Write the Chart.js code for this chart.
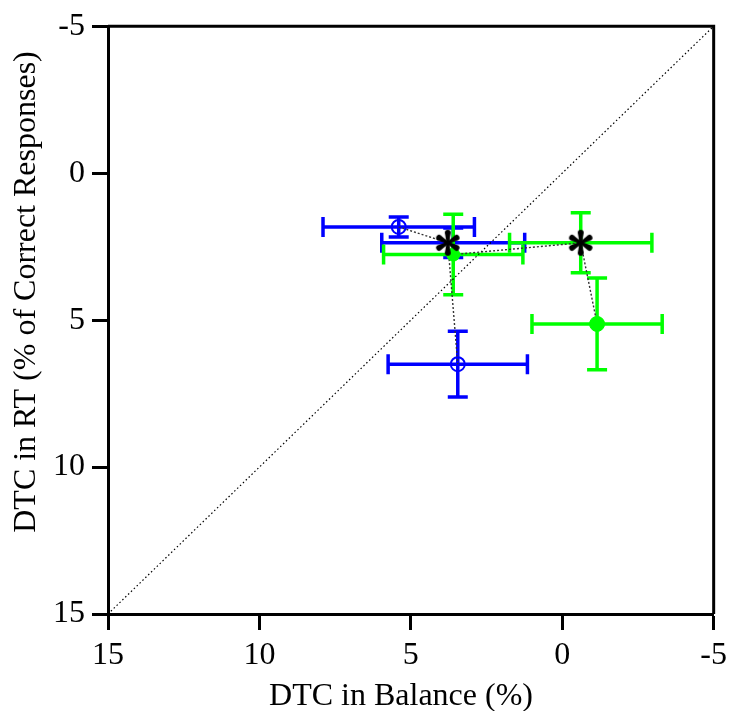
<!doctype html>
<html>
<head>
<meta charset="UTF-8">
<script src="https://cdn.jsdelivr.net/npm/chart.js"></script>
<style>
  html, body { margin: 0; padding: 0; background: #fff; }
</style>
</head>
<body>
<canvas id="dtc_graph" width="733" height="711"></canvas>

<script>
    // axis ticks (both axes reversed, -5 .. 15)
    const xTicks = [15, 10, 5, 0, -5];
    const yTicks = [-5, 0, 5, 10, 15];

    // open blue circles
    const blueX = [5.4, 3.45];
    const blueY = [1.83, 6.5];
    const blueXErr = [2.5, 2.3];
    const blueYErr = [0.34, 1.12];

    // filled green circles
    const greenX = [3.6, -1.15];
    const greenY = [2.77, 5.13];
    const greenXErr = [2.3, 2.15];
    const greenYErr = [1.37, 1.56];

    // black asterisks (means)
    const starX = [3.78, -0.61];
    const starY = [2.37, 2.37];

    // error bars drawn round the asterisks
    const starBlueX = [3.6];
    const starBlueY = [2.37];
    const starBlueXErr = [2.36];
    const starBlueYErr = [0.5];
    const starGreenX = [-0.61];
    const starGreenY = [2.37];
    const starGreenXErr = [2.35];
    const starGreenYErr = [1.02];

    // identity line
    const diagX = [15, -5];
    const diagY = [15, -5];

    const BLUE = '#0000ff';
    const GREEN = '#00ff00';
    const FONT = '"Liberation Serif", "Times New Roman", serif';

    const pts = (xs, ys) => xs.map((v, i) => ({x: v, y: ys[i]}));

    // 6-armed asterisk used as point style
    function makeAsterisk(r) {
        const c = document.createElement('canvas');
        c.width = c.height = 2 * r + 4;
        const g = c.getContext('2d');
        g.translate(r + 2, r + 2);
        g.fillStyle = '#000';
        for (let k = 0; k < 6; k++) {
            g.save();
            g.rotate(Math.PI / 2 + k * Math.PI / 3);
            g.beginPath();
            g.moveTo(0, -1.2);
            g.lineTo(r - 3, -3);
            g.arc(r - 3, 0, 3, -Math.PI / 2, Math.PI / 2);
            g.lineTo(0, 1.2);
            g.closePath();
            g.fill();
            g.restore();
        }
        return c;
    }

    const errorSets = [
        {color: BLUE, x: blueX, y: blueY, xErr: blueXErr, yErr: blueYErr},
        {color: BLUE, x: starBlueX, y: starBlueY, xErr: starBlueXErr, yErr: starBlueYErr},
        {color: GREEN, x: greenX, y: greenY, xErr: greenXErr, yErr: greenYErr},
        {color: GREEN, x: starGreenX, y: starGreenY, xErr: starGreenXErr, yErr: starGreenYErr}
    ];

    const errorBars = {
        id: 'errorBars',
        beforeDatasetsDraw(chart) {
            const {ctx, scales: {x, y}} = chart;
            const cap = 10;
            ctx.save();
            ctx.lineWidth = 3.5;
            errorSets.forEach(set => {
                ctx.strokeStyle = set.color;
                set.x.forEach((xv, i) => {
                    const yv = set.y[i];
                    const px = x.getPixelForValue(xv), py = y.getPixelForValue(yv);
                    const x0 = x.getPixelForValue(xv - set.xErr[i]);
                    const x1 = x.getPixelForValue(xv + set.xErr[i]);
                    const y0 = y.getPixelForValue(yv - set.yErr[i]);
                    const y1 = y.getPixelForValue(yv + set.yErr[i]);
                    ctx.beginPath();
                    ctx.moveTo(x0, py); ctx.lineTo(x1, py);
                    ctx.moveTo(x0, py - cap); ctx.lineTo(x0, py + cap);
                    ctx.moveTo(x1, py - cap); ctx.lineTo(x1, py + cap);
                    ctx.moveTo(px, y0); ctx.lineTo(px, y1);
                    ctx.moveTo(px - cap, y0); ctx.lineTo(px + cap, y0);
                    ctx.moveTo(px - cap, y1); ctx.lineTo(px + cap, y1);
                    ctx.stroke();
                });
            });
            ctx.restore();
        }
    };

    // top/right frame and the two axis titles
    const frame = {
        id: 'frame',
        afterDraw(chart) {
            const {ctx, chartArea: a} = chart;
            ctx.save();
            ctx.strokeStyle = '#000';
            ctx.lineWidth = 3;
            ctx.beginPath();
            ctx.moveTo(a.left, a.top);
            ctx.lineTo(a.right, a.top);
            ctx.lineTo(a.right, a.bottom);
            ctx.stroke();

            ctx.fillStyle = '#000';
            ctx.font = '32px ' + FONT;
            ctx.textAlign = 'center';
            ctx.textBaseline = 'alphabetic';
            ctx.fillText('DTC in Balance (%)', 401, 705);

            ctx.translate(35, 292);
            ctx.rotate(-Math.PI / 2);
            ctx.fillText('DTC in RT (% of Correct Responses)', 0, 0);
            ctx.restore();
        }
    };

    const axisCommon = {
        type: 'linear',
        min: -5,
        max: 15,
        reverse: true,
        border: {display: true, color: '#000', width: 3},
        grid: {drawOnChartArea: false, drawTicks: true, tickLength: 16, tickWidth: 3, tickColor: '#000'},
        title: {display: false}
    };

    new Chart(document.getElementById('dtc_graph'), {
        type: 'scatter',
        data: {
            datasets: [
                {
                    label: 'Means',
                    data: pts(starX, starY),
                    pointStyle: makeAsterisk(13),
                    pointRadius: 13,
                    order: 0
                },
                {
                    label: 'Green',
                    data: pts(greenX, greenY),
                    pointStyle: 'circle',
                    pointRadius: [6.5, 7.5],
                    backgroundColor: GREEN,
                    borderColor: GREEN,
                    borderWidth: 1,
                    order: 1
                },
                {
                    label: 'Blue',
                    data: pts(blueX, blueY),
                    pointStyle: 'circle',
                    pointRadius: 7,
                    backgroundColor: 'rgba(0,0,0,0)',
                    borderColor: BLUE,
                    borderWidth: 2,
                    order: 2
                },
                {
                    label: 'Blue path',
                    type: 'line',
                    data: [
                        {x: blueX[0], y: blueY[0]},
                        {x: starX[0], y: starY[0]},
                        {x: blueX[1], y: blueY[1]}
                    ],
                    borderColor: '#333',
                    borderWidth: 1.4,
                    borderDash: [2, 2],
                    pointRadius: 0,
                    fill: false,
                    order: 3
                },
                {
                    label: 'Green path',
                    type: 'line',
                    data: [
                        {x: greenX[0], y: greenY[0]},
                        {x: starX[1], y: starY[1]},
                        {x: greenX[1], y: greenY[1]}
                    ],
                    borderColor: '#333',
                    borderWidth: 1.4,
                    borderDash: [2, 2],
                    pointRadius: 0,
                    fill: false,
                    order: 3
                },
                {
                    label: 'Identity',
                    type: 'line',
                    data: pts(diagX, diagY),
                    borderColor: '#000',
                    borderWidth: 1.2,
                    borderDash: [1.5, 2.5],
                    pointRadius: 0,
                    fill: false,
                    order: 4
                }
            ]
        },
        options: {
            responsive: false,
            animation: false,
            layout: {padding: {top: 24, right: 17, left: 0, bottom: 0}},
            plugins: {
                legend: {display: false},
                tooltip: {enabled: false}
            },
            scales: {
                x: {
                    ...axisCommon,
                    position: 'bottom',
                    afterBuildTicks: s => { s.ticks = xTicks.map(v => ({value: v})); },
                    afterFit: s => { s.height = 97; },
                    ticks: {color: '#000', padding: 6, maxRotation: 0, font: {family: FONT, size: 32}}
                },
                y: {
                    ...axisCommon,
                    position: 'left',
                    afterBuildTicks: s => { s.ticks = yTicks.map(v => ({value: v})); },
                    afterFit: s => { s.width = 108; },
                    ticks: {color: '#000', padding: 7, font: {family: FONT, size: 32}}
                }
            }
        },
        plugins: [errorBars, frame]
    });
</script>
</body>
</html>
